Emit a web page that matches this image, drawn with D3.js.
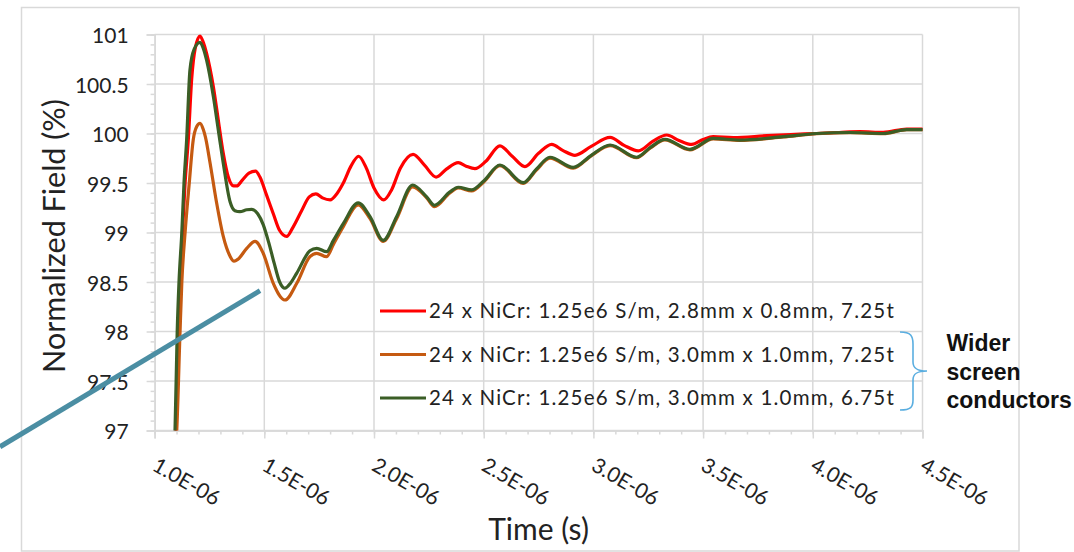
<!DOCTYPE html>
<html>
<head>
<meta charset="utf-8">
<script src="https://cdn.jsdelivr.net/npm/d3@7"></script>
<style>
  html, body { margin: 0; padding: 0; background: #fff; overflow: hidden; }
  svg { display: block; }
</style>
</head>
<body>
<svg id="chart" width="1074" height="552"></svg>
<script>
// Step response of the normalized field for three screen-conductor designs.
// Each series: [time (s), normalized field (%)]
const seriesNames = [
  "24 x NiCr: 1.25e6 S/m, 2.8mm x 0.8mm, 7.25t",
  "24 x NiCr: 1.25e6 S/m, 3.0mm x 1.0mm, 7.25t",
  "24 x NiCr: 1.25e6 S/m, 3.0mm x 1.0mm, 6.75t"
];
const seriesColors = ["#ff0000", "#c55a11", "#3b5e26"];

const red725 = [
  [1.085e-6, 96.6], [1.097e-6, 97.0], [1.107e-6, 98.0], [1.127e-6, 99.0], [1.139e-6, 99.5],
  [1.154e-6, 99.95], [1.169e-6, 100.55], [1.185e-6, 100.86], [1.207e-6, 100.985], [1.222e-6, 100.92],
  [1.237e-6, 100.81], [1.268e-6, 100.47], [1.290e-6, 100.14], [1.313e-6, 99.80], [1.336e-6, 99.56],
  [1.360e-6, 99.47], [1.374e-6, 99.47], [1.400e-6, 99.53], [1.430e-6, 99.60], [1.460e-6, 99.62],
  [1.480e-6, 99.56], [1.510e-6, 99.38], [1.541e-6, 99.19], [1.570e-6, 99.02], [1.602e-6, 98.96],
  [1.630e-6, 99.05], [1.670e-6, 99.22], [1.705e-6, 99.36], [1.735e-6, 99.39], [1.765e-6, 99.35],
  [1.800e-6, 99.33], [1.830e-6, 99.39], [1.860e-6, 99.50], [1.895e-6, 99.67], [1.930e-6, 99.77],
  [1.965e-6, 99.65], [2.000e-6, 99.45], [2.045e-6, 99.33], [2.080e-6, 99.43], [2.120e-6, 99.65],
  [2.178e-6, 99.79], [2.230e-6, 99.68], [2.283e-6, 99.56], [2.330e-6, 99.64], [2.384e-6, 99.705],
  [2.420e-6, 99.67], [2.460e-6, 99.645], [2.510e-6, 99.72], [2.574e-6, 99.875], [2.630e-6, 99.77],
  [2.688e-6, 99.665], [2.750e-6, 99.80], [2.810e-6, 99.89], [2.860e-6, 99.83], [2.916e-6, 99.78],
  [2.990e-6, 99.87], [3.076e-6, 99.96], [3.140e-6, 99.88], [3.205e-6, 99.825], [3.270e-6, 99.92],
  [3.334e-6, 99.985], [3.390e-6, 99.93], [3.448e-6, 99.89], [3.500e-6, 99.94], [3.546e-6, 99.968],
  [3.638e-6, 99.958], [3.790e-6, 99.978], [3.900e-6, 99.99], [4.018e-6, 100.0], [4.120e-6, 100.01],
  [4.215e-6, 100.018], [4.321e-6, 100.012], [4.428e-6, 100.045], [4.500e-6, 100.045]
];

const orange725 = [
  [1.088e-6, 96.6], [1.101e-6, 97.0], [1.116e-6, 98.0], [1.124e-6, 98.49], [1.139e-6, 99.0],
  [1.158e-6, 99.5], [1.176e-6, 99.935], [1.192e-6, 100.07], [1.207e-6, 100.103], [1.222e-6, 100.04],
  [1.232e-6, 99.96], [1.253e-6, 99.70], [1.283e-6, 99.295], [1.313e-6, 98.96], [1.344e-6, 98.76],
  [1.362e-6, 98.71], [1.380e-6, 98.73], [1.420e-6, 98.84], [1.458e-6, 98.91], [1.495e-6, 98.79],
  [1.541e-6, 98.487], [1.594e-6, 98.318], [1.648e-6, 98.487], [1.708e-6, 98.756], [1.739e-6, 98.79],
  [1.784e-6, 98.756], [1.815e-6, 98.88], [1.860e-6, 99.06], [1.928e-6, 99.28], [1.982e-6, 99.14],
  [2.042e-6, 98.91], [2.103e-6, 99.14], [2.176e-6, 99.46], [2.240e-6, 99.35], [2.275e-6, 99.26],
  [2.346e-6, 99.40], [2.384e-6, 99.45], [2.445e-6, 99.42], [2.500e-6, 99.51], [2.574e-6, 99.675],
  [2.680e-6, 99.495], [2.740e-6, 99.63], [2.802e-6, 99.75], [2.908e-6, 99.65], [2.990e-6, 99.775],
  [3.076e-6, 99.878], [3.197e-6, 99.755], [3.260e-6, 99.855], [3.326e-6, 99.935], [3.440e-6, 99.835],
  [3.546e-6, 99.945], [3.667e-6, 99.93], [3.866e-6, 99.965], [4.018e-6, 99.998], [4.170e-6, 100.008],
  [4.321e-6, 99.998], [4.428e-6, 100.038], [4.500e-6, 100.04]
];

const green675 = [
  [1.080e-6, 96.6], [1.093e-6, 97.0], [1.103e-6, 98.0], [1.111e-6, 98.49], [1.124e-6, 99.0],
  [1.134e-6, 99.5], [1.146e-6, 99.935], [1.161e-6, 100.64], [1.180e-6, 100.85], [1.207e-6, 100.92],
  [1.222e-6, 100.86], [1.237e-6, 100.74], [1.268e-6, 100.37], [1.290e-6, 100.04], [1.313e-6, 99.70],
  [1.344e-6, 99.31], [1.366e-6, 99.22], [1.389e-6, 99.21], [1.420e-6, 99.23], [1.443e-6, 99.234],
  [1.470e-6, 99.19], [1.495e-6, 99.08], [1.520e-6, 98.90], [1.545e-6, 98.69], [1.570e-6, 98.50],
  [1.594e-6, 98.437], [1.620e-6, 98.49], [1.648e-6, 98.59], [1.708e-6, 98.815], [1.739e-6, 98.84],
  [1.784e-6, 98.806], [1.815e-6, 98.92], [1.860e-6, 99.09], [1.928e-6, 99.30], [1.982e-6, 99.16],
  [2.042e-6, 98.92], [2.103e-6, 99.16], [2.176e-6, 99.48], [2.240e-6, 99.36], [2.275e-6, 99.275],
  [2.346e-6, 99.41], [2.384e-6, 99.457], [2.445e-6, 99.43], [2.500e-6, 99.52], [2.574e-6, 99.682],
  [2.680e-6, 99.503], [2.740e-6, 99.64], [2.802e-6, 99.76], [2.908e-6, 99.658], [2.990e-6, 99.78],
  [3.076e-6, 99.884], [3.197e-6, 99.76], [3.260e-6, 99.86], [3.326e-6, 99.94], [3.440e-6, 99.84],
  [3.546e-6, 99.95], [3.667e-6, 99.934], [3.866e-6, 99.968], [4.018e-6, 100.0], [4.170e-6, 100.01],
  [4.321e-6, 100.0], [4.428e-6, 100.04], [4.500e-6, 100.04]
];

const allSeries = [red725, orange725, green675];

const xTicks = [1.0e-6, 1.5e-6, 2.0e-6, 2.5e-6, 3.0e-6, 3.5e-6, 4.0e-6, 4.5e-6];
const yTicks = [97, 97.5, 98, 98.5, 99, 99.5, 100, 100.5, 101];
const xTitle = "Time (s)";
const yTitle = "Normalized Field (%)";
const noteLines = ["Wider", "screen", "conductors"];
// pointer line, given in axis units (time, field)
const pointerLine = [[0.2953e-6, 96.836], [1.4804e-6, 98.412]];

// ---- layout ----
const svg = d3.select("#chart");
const plot = { left: 154.6, right: 922.5, top: 34.5, bottom: 430.5 };
const x = d3.scaleLinear().domain([1.0e-6, 4.5e-6]).range([plot.left, plot.right]);
const y = d3.scaleLinear().domain([97, 101]).range([plot.bottom, plot.top]);

const gridColor = "#d9d9d9";
const textColor = "#222";
const tickFont = "Lato, 'Open Sans', sans-serif";

// Excel-style scientific format: 1.0E-06
const sci = d => {
  const [m, e] = d.toExponential(1).split("e");
  const n = Math.abs(+e);
  return m + "E" + (+e < 0 ? "-" : "+") + String(n).padStart(2, "0");
};

// outer chart border
svg.append("rect")
  .attr("x", 21.5).attr("y", 7.5).attr("width", 997.5).attr("height", 543.5)
  .attr("fill", "none").attr("stroke", gridColor).attr("stroke-width", 1.5);

// gridlines
svg.append("g").selectAll("line").data(yTicks).join("line")
  .attr("x1", plot.left).attr("x2", plot.right)
  .attr("y1", d => y(d)).attr("y2", d => y(d))
  .attr("stroke", gridColor).attr("stroke-width", 1.5);
svg.append("g").selectAll("line").data(xTicks.slice(1)).join("line")
  .attr("x1", d => x(d)).attr("x2", d => x(d))
  .attr("y1", plot.top).attr("y2", plot.bottom)
  .attr("stroke", gridColor).attr("stroke-width", 1.5);

// y axis with minor ticks
const yMinor = d3.range(97, 101.0001, 0.1);
const yAxisG = svg.append("g").attr("transform", `translate(${plot.left},0)`);
yAxisG.call(d3.axisLeft(y).tickValues(yMinor).tickSize(4).tickFormat(""));
yAxisG.call(g => g.append("g").call(d3.axisLeft(y).tickValues(yTicks).tickSize(8).tickPadding(18).tickFormat(d => String(d))));
yAxisG.selectAll("path.domain").attr("stroke", gridColor).attr("stroke-width", 1.5);
yAxisG.selectAll(".tick line").attr("stroke", gridColor).attr("stroke-width", 1.5);
yAxisG.selectAll("text")
  .attr("font-family", tickFont).attr("font-size", 21).attr("fill", textColor)
  .attr("dy", "0.4em");

// x axis with minor ticks
const xMinor = d3.range(10, 45.0001, 1).map(v => v * 1e-7);
const xAxisG = svg.append("g").attr("transform", `translate(0,${plot.bottom})`);
xAxisG.call(d3.axisBottom(x).tickValues(xMinor).tickSize(4).tickFormat(""));
xAxisG.call(g => g.append("g").call(d3.axisBottom(x).tickValues(xTicks).tickSize(8).tickFormat(sci)));
xAxisG.selectAll("path.domain").attr("stroke", gridColor).attr("stroke-width", 1.5);
xAxisG.selectAll(".tick line").attr("stroke", gridColor).attr("stroke-width", 1.5);
xAxisG.selectAll("text")
  .attr("font-family", tickFont).attr("font-size", 21).attr("fill", textColor)
  .attr("y", 0).attr("dy", 0)
  .attr("text-anchor", "start")
  .attr("transform", "translate(-4,39) rotate(30)");

// axis titles
svg.append("text")
  .attr("transform", `translate(65,236) rotate(-90)`)
  .attr("text-anchor", "middle")
  .attr("font-family", tickFont).attr("font-size", 30.5).attr("fill", textColor)
  .text(yTitle);
svg.append("text")
  .attr("x", (plot.left + plot.right) / 2).attr("y", 540)
  .attr("text-anchor", "middle")
  .attr("font-family", tickFont).attr("font-size", 30).attr("fill", textColor)
  .text(xTitle);

// series lines, clipped to the plot area
svg.append("clipPath").attr("id", "plotClip")
  .append("rect").attr("x", plot.left).attr("y", plot.top - 10)
  .attr("width", plot.right - plot.left + 4).attr("height", plot.bottom - plot.top + 10);

const line = d3.line()
  .x(d => x(d[0])).y(d => y(d[1]))
  .curve(d3.curveMonotoneX);

svg.append("g").attr("clip-path", "url(#plotClip)")
  .selectAll("path").data(allSeries).join("path")
  .attr("d", line)
  .attr("fill", "none")
  .attr("stroke", (d, i) => seriesColors[i])
  .attr("stroke-width", 3.2)
  .attr("stroke-linejoin", "round");

// legend
const legend = svg.append("g").attr("transform", "translate(380,311)");
const rows = legend.selectAll("g").data(seriesNames).join("g")
  .attr("transform", (d, i) => `translate(0,${i * 43.5})`);
rows.append("line").attr("x1", 0).attr("x2", 46).attr("y1", 0).attr("y2", 0)
  .attr("stroke", (d, i) => seriesColors[i]).attr("stroke-width", 3.2);
rows.append("text").attr("x", 49).attr("y", 0).attr("dy", "0.36em")
  .attr("font-family", tickFont).attr("font-size", 20.5).attr("fill", textColor)
  .attr("letter-spacing", 1.2)
  .text(d => d);

// curly brace grouping the two wider-conductor entries
const brace = d3.path();
brace.moveTo(900, 332);
brace.bezierCurveTo(911, 332, 913, 336, 913, 344);
brace.lineTo(913, 362);
brace.bezierCurveTo(913, 369, 918, 371, 927, 371);
brace.bezierCurveTo(918, 371, 913, 373, 913, 380);
brace.lineTo(913, 400);
brace.bezierCurveTo(913, 407, 911, 410, 900, 410);
svg.append("path").attr("d", brace.toString())
  .attr("fill", "none").attr("stroke", "#5aaee0").attr("stroke-width", 1.6);

svg.append("g").selectAll("text").data(noteLines).join("text")
  .attr("x", 946.5).attr("y", (d, i) => 351 + i * 28.5)
  .attr("font-family", "'Liberation Sans', Arial, sans-serif")
  .attr("font-weight", "bold").attr("font-size", 23).attr("fill", "#111")
  .text(d => d);

// pointer line
svg.append("line")
  .attr("x1", x(pointerLine[0][0])).attr("y1", y(pointerLine[0][1]))
  .attr("x2", x(pointerLine[1][0])).attr("y2", y(pointerLine[1][1]))
  .attr("stroke", "#4b8ea3").attr("stroke-width", 5);
</script>
</body>
</html>
